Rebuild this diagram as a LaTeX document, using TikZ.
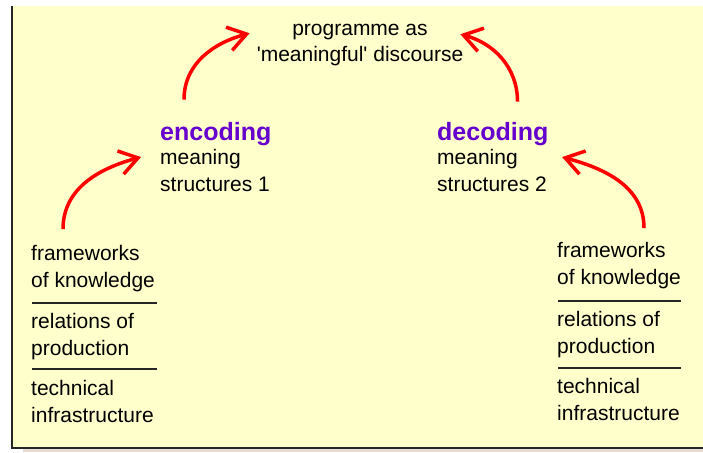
\documentclass[tikz,border=0pt]{standalone}
\usepackage{fontspec}
\setmainfont{Liberation Sans}
\usepackage{xcolor}
\usetikzlibrary{arrows.meta, positioning}
\definecolor{paper}{RGB}{255,255,204}
\definecolor{codeviolet}{RGB}{102,0,204}
\definecolor{edgegrey}{RGB}{230,222,214}
\tikzset{
  txt/.style={inner sep=0pt, align=left, anchor=base west, font=\fontsize{21}{26.5}\selectfont},
  ttl/.style={inner sep=0pt, anchor=base west, text=codeviolet, font=\fontsize{25}{28}\selectfont\bfseries},
  arr/.style={red, line width=3.5pt, -{Straight Barb[length=18pt,width=24pt]}},
  sep/.style={line width=2pt, black!85}
}

\begin{document}
\begin{tikzpicture}[x=1pt, y=-1pt]
        \useasboundingbox (0,0) rectangle (703,452);
        \fill[paper] (12,6) rectangle (703,448);
        \fill[edgegrey] (23,449) rectangle (703,452);
        \draw[line width=2pt, black!85] (12,6) -- (12,448) -- (703,448);

        \node[txt, align=center, anchor=base] (prog) at (360,62) {programme as\\\textquotesingle meaningful\textquotesingle{} discourse};

        \node[ttl] (enc) at (160,140) {encoding};
        \node[txt] (encm) at (160,191) {meaning\\structures 1};
        \node[ttl] (dec) at (437,140) {decoding};
        \node[txt] (decm) at (437,191) {meaning\\structures 2};

        \node[txt] (fw1) at (31,287) {frameworks\\of knowledge};
        \node[txt] (rp1) at (31,355) {relations of\\production};
        \node[txt] (ti1) at (31,422) {technical\\infrastructure};
        \node[txt] (fw2) at (557,284) {frameworks\\of knowledge};
        \node[txt] (rp2) at (557,353) {relations of\\production};
        \node[txt] (ti2) at (557,420) {technical\\infrastructure};

        \draw[sep] (32,303) -- (157,303);
        \draw[sep] (32,369) -- (157,369);
        \draw[sep] (558,301) -- (681,301);
        \draw[sep] (558,368) -- (681,368);

        \draw[arr] ([xshift=32pt,yshift=16pt]fw1.north west) to[out=90,in=195] ([xshift=-19pt,yshift=-8pt]encm.north west);
        \draw[arr] ([xshift=24pt,yshift=22pt]enc.north west) to[out=90,in=195] ([xshift=-7pt,yshift=12pt]prog.west);
        \draw[arr] ([xshift=-31pt,yshift=20pt]dec.north east) to[out=90,in=-15] ([xshift=-3pt,yshift=11pt]prog.east);
        \draw[arr] ([xshift=87pt,yshift=14pt]fw2.north west) to[out=90,in=-15] ([xshift=15pt,yshift=-8pt]decm.north east);
      \end{tikzpicture}
\end{document}
